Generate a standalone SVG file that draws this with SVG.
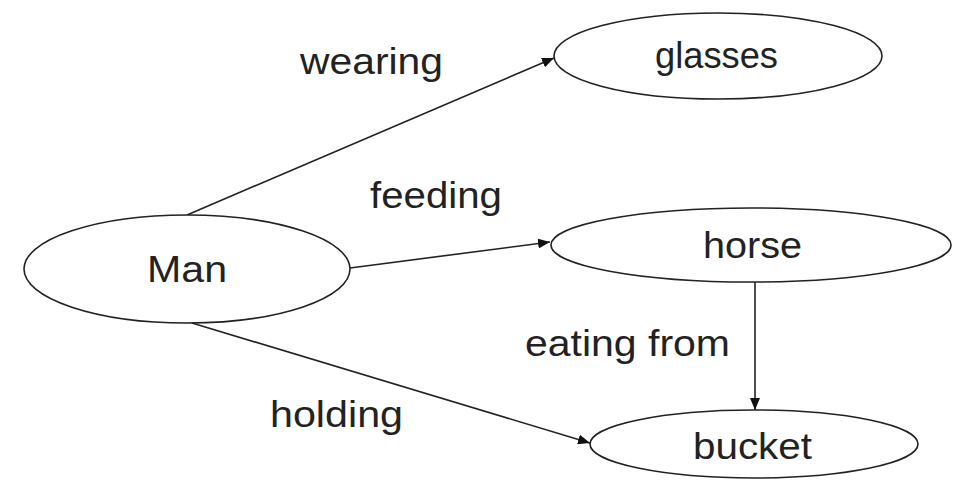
<svg xmlns="http://www.w3.org/2000/svg" width="953" height="481" viewBox="0 0 953 481">
<style>
.node ellipse{fill:#fff;stroke:#222;stroke-width:1.6}
.lbl{font-family:"Liberation Sans",Arial,sans-serif;font-size:36px;fill:#222}
.edge{stroke:#222;stroke-width:1.6;fill:none;marker-end:url(#arr)}
</style>
<defs>
<marker id="arr" viewBox="0 0 12 10" refX="12" refY="5" markerWidth="12" markerHeight="10" markerUnits="userSpaceOnUse" orient="auto">
<path d="M0,0 L12,5 L0,10 Z" fill="#111"/>
</marker>
</defs>
<rect width="953" height="481" fill="#fff"/>
<g id="connectors">
<line class="edge" x1="187" y1="215" x2="554" y2="58"/>
<line class="edge" x1="350" y1="268" x2="550" y2="242"/>
<line class="edge" x1="192" y1="323" x2="590" y2="443"/>
<line class="edge" x1="755" y1="282" x2="755" y2="410"/>
<text class="lbl" x="300" y="74" textLength="143" lengthAdjust="spacingAndGlyphs">wearing</text>
<text class="lbl" x="370" y="208" textLength="132" lengthAdjust="spacingAndGlyphs">feeding</text>
<text class="lbl" x="270" y="427" textLength="133" lengthAdjust="spacingAndGlyphs">holding</text>
<text class="lbl" x="525" y="356" textLength="205" lengthAdjust="spacingAndGlyphs">eating from</text>
</g>
<g id="man" class="node">
<ellipse cx="187" cy="269" rx="163" ry="54"/>
<text class="lbl" x="147" y="282" textLength="80" lengthAdjust="spacingAndGlyphs">Man</text>
</g>
<g id="glasses" class="node">
<ellipse cx="718" cy="56" rx="164" ry="43"/>
<text class="lbl" x="655" y="68" textLength="123" lengthAdjust="spacingAndGlyphs">glasses</text>
</g>
<g id="horse" class="node">
<ellipse cx="751" cy="245" rx="200" ry="37"/>
<text class="lbl" x="703" y="258" textLength="99" lengthAdjust="spacingAndGlyphs">horse</text>
</g>
<g id="bucket" class="node">
<ellipse cx="754" cy="444" rx="164" ry="34"/>
<text class="lbl" x="693" y="459" textLength="119" lengthAdjust="spacingAndGlyphs">bucket</text>
</g>
</svg>
